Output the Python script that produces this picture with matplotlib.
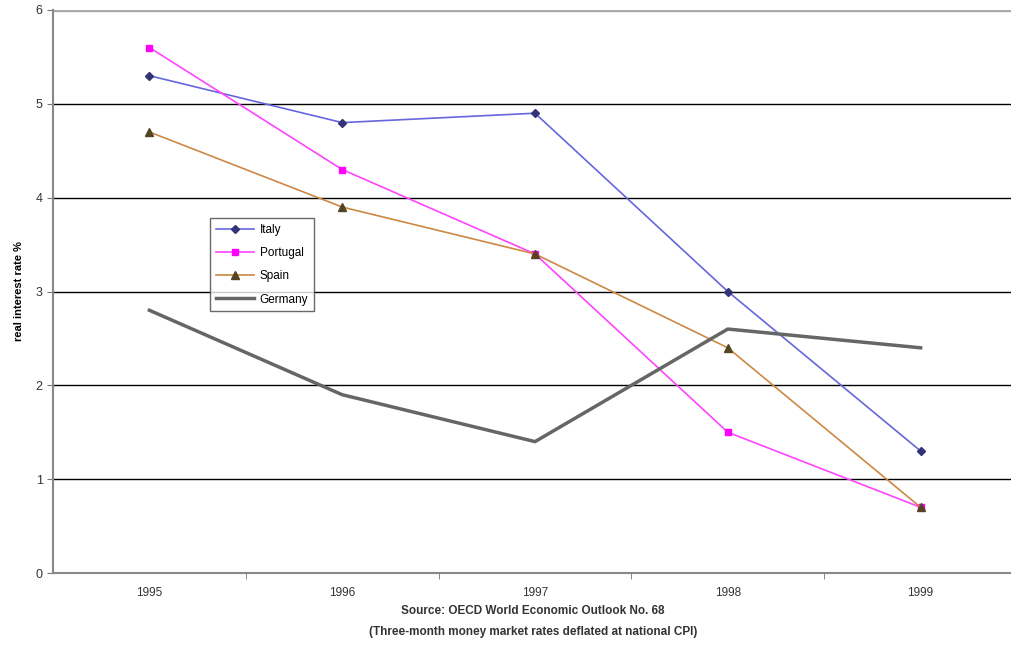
import matplotlib.pyplot as plt

years = ['1995', '1996', '1997', '1998', '1999']
italy = [5.3, 4.8, 4.9, 3.0, 1.3]
portugal = [5.6, 4.3, 3.4, 1.5, 0.7]
spain = [4.7, 3.9, 3.4, 2.4, 0.7]
germany = [2.8, 1.9, 1.4, 2.6, 2.4]

plt.rcParams['font.family'] = ['Liberation Sans', 'DejaVu Sans']

fig = plt.figure(figsize=(10.11, 6.45), dpi=100)
ax = fig.add_axes([53 / 1011, 72 / 645, 964 / 1011, 563 / 645])

x = range(len(years))
ax.plot(x, italy, color='#6666dd', lw=1.2, marker='D', ms=4,
        mfc='#333377', mec='#333377', label='Italy', zorder=3)
ax.plot(x, portugal, color='#ff44ff', lw=1.2, marker='s', ms=5,
        mfc='#ff00ff', mec='#ff00ff', label='Portugal', zorder=3)
ax.plot(x, spain, color='#cc8844', lw=1.2, marker='^', ms=5.5,
        mfc='#554422', mec='#554422', label='Spain', zorder=3)
ax.plot(x, germany, color='#666666', lw=2.5, label='Germany', zorder=3)

ax.set_xlim(-0.5, 4.5)
ax.set_ylim(0, 6)
ax.set_yticks(range(7))
ax.set_xticks(list(x))
ax.set_xticklabels(years)
ax.set_xticks([i + 0.5 for i in range(4)], minor=True)
ax.tick_params(axis='x', which='major', length=0, labelsize=8.5, pad=10, colors='#333333')
ax.tick_params(axis='x', which='minor', length=4, color='#777777')
ax.tick_params(axis='y', length=4, labelsize=9, color='#777777', labelcolor='#333333')

for v in range(1, 6):
    ax.axhline(v, color='black', lw=1, zorder=1)
ax.axhline(6, color='#aaaaaa', lw=2.5, zorder=1)

for s in ['top', 'right']:
    ax.spines[s].set_visible(False)
ax.spines['left'].set_color('#888888')
ax.spines['left'].set_linewidth(1.5)
ax.spines['bottom'].set_color('#888888')
ax.spines['bottom'].set_linewidth(1.5)

ax.set_ylabel('real interest rate %', fontsize=8, fontweight='bold', labelpad=8)

leg = ax.legend(loc='upper left', bbox_to_anchor=(210 / 1011, 1 - 218 / 645),
                bbox_transform=fig.transFigure, fontsize=8.5, frameon=True,
                fancybox=False, edgecolor='#444444', handlelength=3.2,
                labelspacing=0.95, borderpad=0.5, borderaxespad=0,
                handletextpad=0.5)
leg.get_frame().set_linewidth(1)

fig.text(533 / 1011, 1 - 611 / 645, 'Source: OECD World Economic Outlook No. 68',
         ha='center', va='center', fontsize=8.5, fontweight='bold', color='#333333')
fig.text(533 / 1011, 1 - 632 / 645, '(Three-month money market rates deflated at national CPI)',
         ha='center', va='center', fontsize=8.5, fontweight='bold', color='#333333')

fig.savefig('out.png', dpi=100)
